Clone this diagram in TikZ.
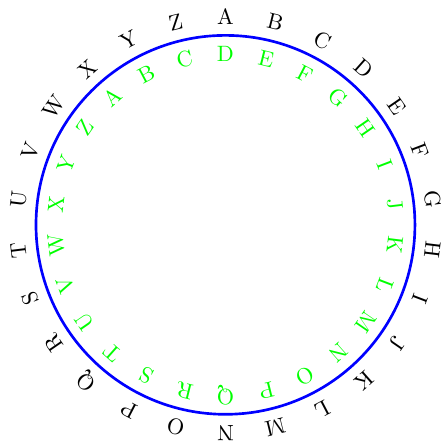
\documentclass[tikz,border=0pt]{standalone}
\usepackage{tikz}
\usetikzlibrary{positioning}

\begin{document}
\begin{tikzpicture}[
  plain/.style={inner sep=0pt, font=\normalsize, text=black},
  shifted/.style={inner sep=0pt, font=\normalsize, text=green},
  wheel/.style={draw=blue, very thick}
]
\useasboundingbox (-3.57,-3.47) rectangle (3.46,3.56);
\draw[wheel] (0,0) circle (3cm);

% outer alphabet
\foreach \ltr [count=\i from 0] in {A,B,C,D,E,F,G,H,I,J,K,L,M,N,O,P,Q,R,S,T,U,V,W,X,Y,Z}
  \node[plain, rotate=-\i*360/26] (out\i) at ({90-\i*360/26}:3.3) {\ltr};

% inner alphabet, shift 3
\foreach \ltr [count=\i from 0] in {D,E,F,G,H,I,J,K,L,M,N,O,P,Q,R,S,T,U,V,W,X,Y,Z,A,B,C}
  \node[shifted, rotate=-\i*360/26] (in\i) at ({90-\i*360/26}:2.7) {\ltr};
\end{tikzpicture}
\end{document}
